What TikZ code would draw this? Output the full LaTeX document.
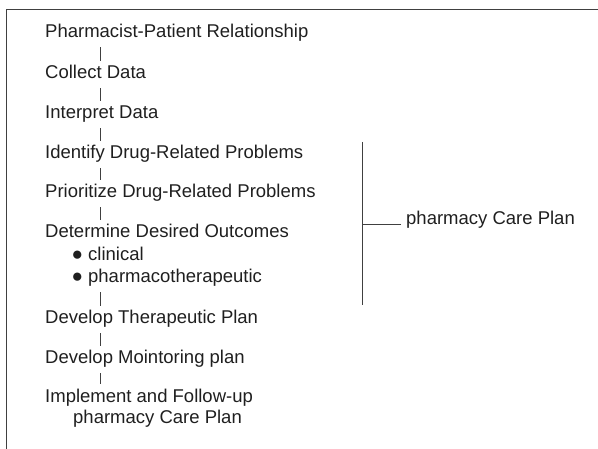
\documentclass[tikz,border=0pt]{standalone}
\usepackage{fontspec}
\setmainfont{Liberation Sans}
\usepackage{tikz}

\newcommand{\dotmark}{\raisebox{0.8pt}{\fontsize{19}{19}\selectfont ●}\hspace{5pt}}

\begin{document}
\begin{tikzpicture} [x=1pt, y=-1pt, item/.style={anchor=base west, inner sep=0pt, text height=13pt, text depth=4pt, font=\fontsize{18.5}{21}\selectfont, text=black!88}, tick/.style={draw=black!75, line width=0.9pt, shorten >=5pt, shorten <=5pt}, bracket/.style={draw=black!75, line width=0.9pt}]
\useasboundingbox (0,0) rectangle (598,449);
\draw [bracket] (6,449) -- (6,9) -- (598,9);
\coordinate (tk) at (100,0);
\node[item] (rel) at (45,38) {Pharmacist-Patient Relationship};
\node[item] (col) at (45,79) {Collect Data};
\node[item] (int) at (45,119) {Interpret Data};
\node[item] (idp) at (45,159) {Identify Drug-Related Problems};
\node[item] (pdp) at (45,198) {Prioritize Drug-Related Problems};
\node[item] (ddo) at (45,238) {Determine Desired Outcomes};
\node[item] (cli) at (71.5,261) {\dotmark clinical};
\node[item] (pth) at (71.5,283) {\dotmark pharmacotherapeutic};
\node[item] (dtp) at (45,324) {Develop Therapeutic Plan};
\node[item] (dmp) at (45,364) {Develop Mointoring plan};
\node[anchor=base west, inner sep=0pt, align=left, font=\fontsize{18.5}{21}\selectfont, text=black!88] (ifp) at (45,424) {Implement and Follow-up\\\hspace*{28pt}pharmacy Care Plan};
\node[item] (pcp) at (406,225) {pharmacy Care Plan};
\draw [tick] (rel.south -| tk) -- (col.north -| tk);
\draw [tick] (col.south -| tk) -- (int.north -| tk);
\draw [tick] (int.south -| tk) -- (idp.north -| tk);
\draw [tick] (idp.south -| tk) -- (pdp.north -| tk);
\draw [tick] (pdp.south -| tk) -- (ddo.north -| tk);
\draw [tick] (pth.south -| tk) -- (dtp.north -| tk);
\draw [tick] (dtp.south -| tk) -- (dmp.north -| tk);
\draw [tick] (dmp.south -| tk) -- (ifp.north -| tk);
\coordinate (btop) at (362,142);
\coordinate (bbot) at (362,305);
\draw [bracket] (btop) -- (bbot);
\draw [bracket] ([xshift=-5pt, yshift=1pt]pcp.base west) -- ([yshift=1pt]pcp.base west -| btop);
\end{tikzpicture}
\end{document}
